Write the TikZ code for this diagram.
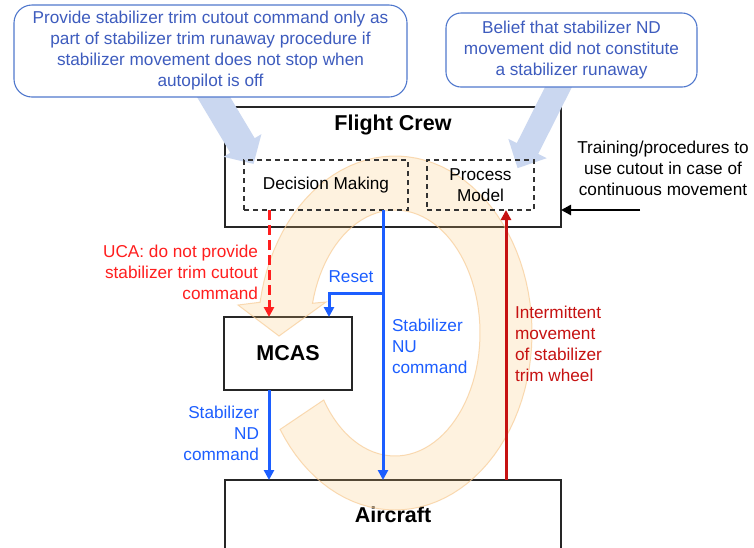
\documentclass[tikz,border=0pt]{standalone}
\usepackage{fontspec}
\setmainfont{Liberation Sans}
\usetikzlibrary{arrows.meta}

\definecolor{notetext}{RGB}{62,92,190}
\definecolor{noteborder}{RGB}{80,120,205}
\definecolor{notearrow}{RGB}{202,215,240}
\definecolor{cmdblue}{RGB}{28,94,255}
\definecolor{ucared}{RGB}{255,30,30}
\definecolor{fbred}{RGB}{198,18,18}
\definecolor{loopfill}{RGB}{252,196,110}
\definecolor{loopline}{RGB}{248,204,150}

\tikzset{
  txt/.style={font=\fontsize{17.2}{21}\selectfont, inner sep=0pt, outer sep=0pt},
  ttl/.style={font=\bfseries\fontsize{21.5}{25}\selectfont, inner sep=0pt},
  box/.style={draw=black!85, line width=1.5pt, fill=white, inner sep=0pt, outer sep=0pt},
  dbox/.style={draw=black!80, line width=1.3pt, dash pattern=on 5pt off 4pt,
    inner sep=0pt, outer sep=0pt, align=center, txt},
  note/.style={draw=noteborder, line width=1.1pt, fill=white, rounded corners=18pt,
    inner sep=0pt, outer sep=0pt, align=center, txt, text=notetext},
  notepointer/.style={fill=notearrow},
  loopband/.style={fill=loopfill, fill opacity=0.22, draw=loopline, draw opacity=0.7, line width=1pt},
  cmd/.style={draw=cmdblue, line width=3pt, -{Triangle[length=10pt,width=10pt]}},
  uca/.style={draw=ucared, line width=3pt, dash pattern=on 10pt off 5pt,
    -{Triangle[length=10pt,width=10pt]}},
  feedback/.style={draw=fbred, line width=3pt, -{Triangle[length=10pt,width=10pt]}},
  input/.style={draw=black, line width=2.5pt, -{Triangle[length=10pt,width=10pt]}},
}

\begin{document}
\begin{tikzpicture}[x=1pt,y=-1pt]
\useasboundingbox (0,0) rectangle (754,547);
\fill[white] (0,0) rectangle (754,547);

% controller, controlled process and automation boxes
\node[box, minimum width=336pt, minimum height=120pt] (crew) at (393,167) {};
\node[ttl] (crewname) at ([yshift=-18pt]crew.north) {Flight Crew};
\node[box, minimum width=128pt, minimum height=73pt] (mcas) at (288,353.5) {};
\node[box, minimum width=336pt, minimum height=140pt, anchor=north] (aircraft) at (393,480) {};
\node[ttl] (aircraftname) at ([yshift=-35pt]aircraft.north) {Aircraft};

% control loop band with arrowhead
\path[loopband]
  plot[domain=213:530, samples=90, variable=\t] ({395+137*cos(\t)},{333-177*sin(\t)})
  -- (238,305) -- (279,336) -- (326,302)
  -- plot[domain=526:213, samples=90, variable=\t] ({395+85*cos(\t)},{333-123*sin(\t)})
  -- cycle;

\node[ttl] (mcasname) at (mcas.center) {MCAS};

% pointers from the notes into the crew
\fill[notepointer] (218.8,78.1) -- (254.7,138.2) -- (261.4,134.2) -- (253.5,163.9)
  -- (223.6,156.8) -- (230.3,152.8) -- (194.4,92.7) -- cycle;
\fill[notepointer] (571.97,86.9) -- (538.2,153.9) -- (546.7,158.2) -- (517.6,168.1)
  -- (508.3,138.8) -- (516.8,143.1) -- (550.5,76.1) -- cycle;

% notes
\node[note, minimum width=393pt, minimum height=92pt] (note1) at (210.5,51)
  {Provide stabilizer trim cutout command only as\\
   part of stabilizer trim runaway procedure if\\
   stabilizer movement does not stop when\\
   autopilot is off};
\node[note, minimum width=251pt, minimum height=74pt, rounded corners=15pt] (note2) at (571.5,50)
  {Belief that stabilizer ND\\
   movement did not constitute\\
   a stabilizer runaway};

% parts of the crew
\node[dbox, minimum width=164pt, minimum height=50pt] (dm) at (326,185) {Decision Making};
\node[dbox, minimum width=107pt, minimum height=50pt] (pm) at (480.5,185) {Process\\Model};

% control actions and feedback
\draw[uca] ([xshift=-57pt]dm.south) -- ([xshift=-19pt]mcas.north);
\draw[cmd] ([xshift=-25pt]dm.south east) coordinate (nutop) -- (nutop |- aircraft.north);
\coordinate (fork) at (383,293);
\draw[cmd] (fork) -| ([xshift=41pt]mcas.north);
\draw[cmd] ([xshift=-19pt]mcas.south) coordinate (ndtop) -- (ndtop |- aircraft.north);
\draw[feedback] ([xshift=113pt]aircraft.north) coordinate (fbbase) -- (fbbase |- pm.south);
\coordinate (trainsrc) at (640,210);
\draw[input] (trainsrc) -- (trainsrc -| crew.east);

% labels
\node[txt, align=right, anchor=east, text=ucared] (ucalabel) at (258,272)
  {UCA: do not provide\\stabilizer trim cutout\\command};
\node[txt, text=cmdblue] (resetlabel) at (351,277) {Reset};
\node[txt, align=left, anchor=west, text=cmdblue] (nulabel) at (392,346)
  {Stabilizer\\NU\\command};
\node[txt, align=right, anchor=east, text=cmdblue] (ndlabel) at (259,433)
  {Stabilizer\\ND\\command};
\node[txt, align=left, anchor=west, text=fbred] (fblabel) at (515,343.5)
  {Intermittent\\movement\\of stabilizer\\trim wheel};
\node[txt, align=center] (trainlabel) at (663,168)
  {Training/procedures to\\use cutout in case of\\continuous movement};
\end{tikzpicture}
\end{document}
